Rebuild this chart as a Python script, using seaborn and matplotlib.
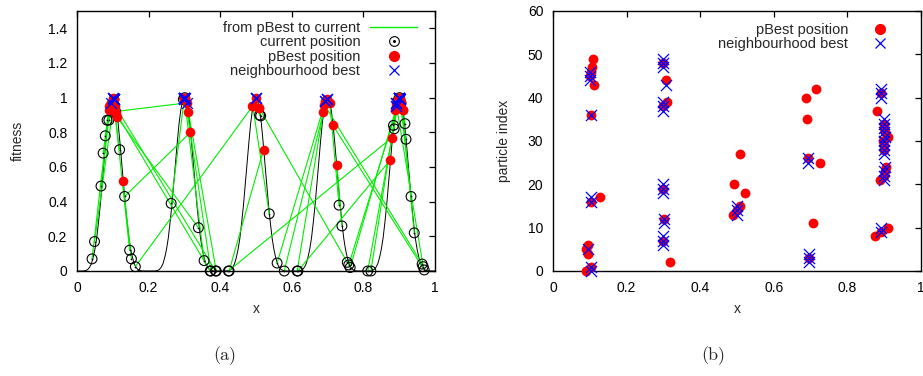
import numpy as np
import pandas as pd
import matplotlib
matplotlib.use("Agg")
import matplotlib.pyplot as plt
import seaborn as sns
from matplotlib.lines import Line2D

# fitness landscape: five equal peaks, all with the same shape
peak_centres = [0.1, 0.3, 0.5, 0.7, 0.9]
profile_offset = [0.0, 0.005, 0.01, 0.015, 0.02, 0.025, 0.03, 0.035, 0.04, 0.045, 0.05,
                  0.055, 0.06, 0.065, 0.07, 0.075, 0.08, 0.085, 0.09, 0.095, 0.1]
profile_fit = [1.0, 0.98, 0.93, 0.85, 0.74, 0.62, 0.50, 0.38, 0.28, 0.19, 0.125,
               0.077, 0.041, 0.021, 0.009, 0.003, 0.001, 0.0, 0.0, 0.0, 0.0]

# the 50 particles (index 0..49)
pbest_x = [0.090, 0.104, 0.317, 0.697, 0.094, 0.090, 0.094, 0.300, 0.875, 0.890,
           0.911, 0.706, 0.302, 0.490, 0.500, 0.509, 0.103, 0.128, 0.521, 0.300,
           0.491, 0.889, 0.900, 0.903, 0.906, 0.726, 0.694, 0.509, 0.900, 0.900,
           0.896, 0.911, 0.902, 0.900, 0.899, 0.691, 0.103, 0.880, 0.298, 0.311,
           0.688, 0.891, 0.715, 0.111, 0.306, 0.100, 0.102, 0.107, 0.300, 0.110]
pbest_fit = [0.93, 0.99, 0.80, 0.99, 0.97, 0.95, 0.97, 1.00, 0.64, 0.95,
             0.93, 0.97, 1.00, 0.95, 1.00, 0.94, 0.99, 0.52, 0.70, 1.00,
             0.95, 0.93, 1.00, 0.99, 0.97, 0.61, 0.98, 0.94, 1.00, 1.00,
             0.99, 0.93, 0.99, 1.00, 1.00, 0.96, 0.99, 0.77, 0.99, 0.92,
             0.92, 0.97, 0.84, 0.89, 0.97, 1.00, 0.99, 0.95, 1.00, 0.91]
cur_x = [0.042, 0.049, 0.133, 0.579, 0.067, 0.073, 0.079, 0.355, 0.617, 0.884,
         0.916, 0.732, 0.374, 0.163, 0.510, 0.513, 0.084, 0.152, 0.425, 0.263,
         0.537, 0.886, 0.919, 0.933, 0.942, 0.740, 0.559, 0.755, 0.763, 0.812,
         0.821, 0.905, 0.759, 0.898, 0.901, 0.964, 0.089, 0.423, 0.297, 0.389,
         0.615, 0.967, 0.970, 0.339, 0.108, 0.119, 0.147, 0.387, 0.301, 0.372]
cur_fit = [0.07, 0.17, 0.43, 0.00, 0.49, 0.68, 0.78, 0.06, 0.00, 0.84,
           0.85, 0.38, 0.00, 0.025, 0.90, 0.895, 0.87, 0.07, 0.00, 0.39,
           0.33, 0.82, 0.76, 0.43, 0.22, 0.26, 0.046, 0.05, 0.02, 0.00,
           0.00, 0.97, 0.035, 0.99, 1.00, 0.04, 0.87, 0.00, 0.99, 0.00,
           0.00, 0.025, 0.006, 0.25, 0.92, 0.70, 0.12, 0.00, 1.00, 0.00]
# which particle's pBest is the neighbourhood best of each particle
nbest_idx = [1, 1, 3, 3, 3, 6, 7, 7, 7, 9,
             9, 12, 12, 14, 14, 14, 16, 16, 19, 19,
             19, 22, 22, 22, 23, 26, 26, 28, 28, 29,
             29, 32, 33, 33, 33, 34, 36, 38, 38, 38,
             41, 41, 41, 44, 45, 45, 45, 48, 48, 48]

GREEN = "#00ee00"
RED = "#ff0000"
BLUE = "#0000ff"

sns.set_theme(style="white")
plt.rcParams["font.family"] = ["Liberation Sans", "DejaVu Sans"]

particles = pd.DataFrame({
    "index": range(len(pbest_x)),
    "pbest_x": pbest_x, "pbest_fit": pbest_fit,
    "cur_x": cur_x, "cur_fit": cur_fit,
})
particles["nbest_x"] = [pbest_x[j] for j in nbest_idx]
particles["nbest_fit"] = [pbest_fit[j] for j in nbest_idx]

# landscape curve, one mirrored profile per peak
curve_rows = []
for c in peak_centres:
    for off, f in zip(profile_offset[::-1], profile_fit[::-1]):
        curve_rows.append((c - off, f))
    for off, f in zip(profile_offset[1:], profile_fit[1:]):
        curve_rows.append((c + off, f))
curve = pd.DataFrame(curve_rows, columns=["x", "fit"])

# segments pBest -> current, one unit per particle
seg = pd.concat([
    pd.DataFrame({"particle": particles["index"], "step": 0,
                  "x": particles["pbest_x"], "fit": particles["pbest_fit"]}),
    pd.DataFrame({"particle": particles["index"], "step": 1,
                  "x": particles["cur_x"], "fit": particles["cur_fit"]}),
]).sort_values(["particle", "step"])

fig = plt.figure(figsize=(9.23, 3.76), dpi=100)
ax1 = fig.add_axes([77 / 923, 1 - 271 / 376, 358 / 923, 260 / 376])
ax2 = fig.add_axes([553 / 923, 1 - 271 / 376, 368 / 923, 260 / 376])

# ---- (a) fitness landscape ----
sns.lineplot(data=curve, x="x", y="fit", ax=ax1, color="black", lw=0.7,
             estimator=None, sort=False)
sns.lineplot(data=seg, x="x", y="fit", units="particle", ax=ax1, color=GREEN,
             lw=0.8, estimator=None, sort=False)
sns.scatterplot(data=particles, x="cur_x", y="cur_fit", ax=ax1, marker="o", s=50,
                facecolor="none", edgecolor="black", linewidth=0.8, clip_on=False,
                zorder=3)
sns.scatterplot(data=particles, x="cur_x", y="cur_fit", ax=ax1, marker="o", s=1.5,
                color="black", linewidth=0, clip_on=False, zorder=3)
sns.scatterplot(data=particles, x="pbest_x", y="pbest_fit", ax=ax1, marker="o", s=48,
                color=RED, linewidth=0, zorder=4)
sns.scatterplot(data=particles, x="nbest_x", y="nbest_fit", ax=ax1, marker="x", s=60,
                color=BLUE, linewidth=0.9, zorder=5)

ax1.set_xlim(0, 1)
ax1.set_ylim(0, 1.5)
ax1.set_xticks([0, 0.2, 0.4, 0.6, 0.8, 1])
ax1.set_xticklabels(["0", "0.2", "0.4", "0.6", "0.8", "1"])
ax1.set_yticks([0, 0.2, 0.4, 0.6, 0.8, 1, 1.2, 1.4])
ax1.set_yticklabels(["0", "0.2", "0.4", "0.6", "0.8", "1", "1.2", "1.4"])
ax1.set_xlabel("x", fontsize=10, labelpad=5.5)
ax1.set_ylabel("fitness", fontsize=10, labelpad=17)

h_line = Line2D([], [], color=GREEN, lw=1)
h_cur = (Line2D([], [], ls="none", marker="o", mfc="none", mec="black", ms=7, mew=0.8),
         Line2D([], [], ls="none", marker="o", color="black", ms=1.2))
h_pb = Line2D([], [], ls="none", marker="o", color=RED, mec=RED, ms=7)
h_nb = Line2D([], [], ls="none", marker="x", color=BLUE, ms=7.5, mew=0.9)
ax1.legend([h_line, h_cur, h_pb, h_nb],
           ["from pBest to current", "current position", "pBest position",
            "neighbourhood best"],
           loc="upper right", bbox_to_anchor=(0.950, 0.962), frameon=False,
           markerfirst=False, fontsize=10.5, handlelength=3.2, handletextpad=0.7,
           labelspacing=0.03, borderaxespad=0, borderpad=0)

# ---- (b) particle index ----
sns.scatterplot(data=particles, x="pbest_x", y="index", ax=ax2, marker="o", s=50,
                color=RED, linewidth=0, clip_on=False, zorder=3)
sns.scatterplot(data=particles, x="nbest_x", y="index", ax=ax2, marker="x", s=64,
                color=BLUE, linewidth=0.9, clip_on=False, zorder=4)
ax2.set_xlim(0, 1)
ax2.set_ylim(0, 60)
ax2.set_xticks([0, 0.2, 0.4, 0.6, 0.8, 1])
ax2.set_xticklabels(["0", "0.2", "0.4", "0.6", "0.8", "1"])
ax2.set_yticks([0, 10, 20, 30, 40, 50, 60])
ax2.set_xlabel("x", fontsize=10, labelpad=5.5)
ax2.set_ylabel("particle index", fontsize=10, labelpad=12)

h_pb2 = Line2D([], [], ls="none", marker="o", color=RED, mec=RED, ms=7)
h_nb2 = Line2D([], [], ls="none", marker="x", color=BLUE, ms=7.5, mew=0.9)
ax2.legend([h_pb2, h_nb2], ["pBest position", "neighbourhood best"],
           loc="upper right", bbox_to_anchor=(0.929, 0.952), frameon=False,
           markerfirst=False, fontsize=10.5, handlelength=2.0, handletextpad=1.2,
           labelspacing=0.0, borderaxespad=0, borderpad=0)

for ax in (ax1, ax2):
    for sp in ax.spines.values():
        sp.set_visible(True)
        sp.set_color("black")
        sp.set_linewidth(1.0)
    ax.tick_params(direction="in", length=4.5, width=0.9, colors="black",
                   top=True, right=True, labelsize=10, pad=7)
    ax.set_facecolor("white")

fig.text(225 / 923, 1 - 356 / 376, "(a)", family="cmr10", fontsize=13,
         ha="center", va="center")
fig.text(713 / 923, 1 - 356 / 376, "(b)", family="cmr10", fontsize=13,
         ha="center", va="center")

fig.savefig("out.png", dpi=100, facecolor="white")
